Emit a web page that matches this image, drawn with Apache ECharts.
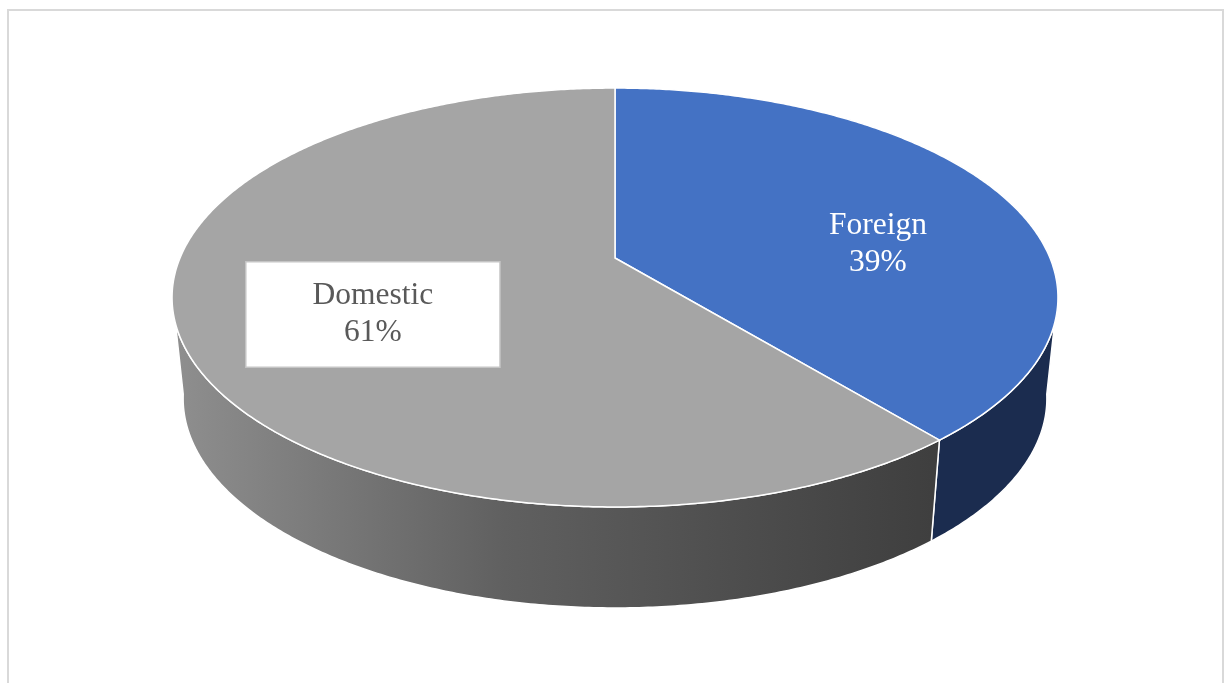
<!DOCTYPE html>
<html>
<head>
<meta charset="utf-8">
<script src="https://cdn.jsdelivr.net/npm/echarts@6/dist/echarts.min.js"></script>
<style>
html,body{margin:0;padding:0;background:#ffffff;}
#main{width:1229px;height:683px;}
</style>
</head>
<body>
<div id="main"></div>
<script>
// ---- data ----
const categories = ['Foreign', 'Domestic'];
const values = [39, 61];

// ---- styles ----
const topColors = ['#4472C4', '#A5A5A5'];
const sideColors = [
  '#1B2C4F',
  {type: 'linear', x: 172, y: 0, x2: 945, y2: 0, global: true,
   colorStops: [{offset: 0, color: '#8F8F8F'}, {offset: 0.43, color: '#606060'},
                {offset: 0.69, color: '#505050'}, {offset: 1, color: '#3E3E3E'}]}
];
const labelStyles = [
  {fill: '#FFFFFF', f: 0.67, dy: 30},
  {fill: '#595959', f: 0.57, dy: 16, box: true}
];
// projected geometry of the pie (perspective ellipse)
const G = {cx: 615, cy: 258, A: 435, B: 202, k: 0.1886, depth: 101, shrink: 0.975};

function proj(theta, f) {
  const u = f * Math.sin(theta), v = f * Math.cos(theta);
  const w = 1 + G.k * v;
  return [G.cx + G.A * u / w, G.cy - G.B * v / w];
}
function bottomOf(p) {
  return [G.cx + (p[0] - G.cx) * G.shrink, p[1] + G.depth];
}

function renderItem(params, api) {
  const i = params.dataIndex;
  const total = values.reduce((a, b) => a + b, 0);
  let start = 0;
  for (let j = 0; j < i; j++) start += values[j];
  const val = api.value(0);
  const a0 = start / total * 2 * Math.PI;
  const a1 = (start + val) / total * 2 * Math.PI;
  const children = [];

  // side wall (front visible part)
  const vis0 = Math.acos(-G.k), vis1 = 2 * Math.PI - vis0;
  const s0 = Math.max(a0, vis0 - 0.02), s1 = Math.min(a1, vis1 + 0.02);
  if (s1 > s0) {
    const n = Math.max(2, Math.ceil((s1 - s0) / (Math.PI / 360)));
    const topPts = [], botPts = [];
    for (let s = 0; s <= n; s++) {
      const p = proj(s0 + (s1 - s0) * s / n, 1);
      topPts.push(p);
      botPts.push(bottomOf(p));
    }
    children.push({
      type: 'polygon', z2: 1,
      shape: {points: topPts.concat(botPts.reverse())},
      style: {fill: sideColors[i], stroke: '#FFFFFF', lineWidth: 1.5}
    });
  }

  // top face
  const pts = [[G.cx, G.cy]];
  const n = Math.max(2, Math.ceil((a1 - a0) / (Math.PI / 360)));
  for (let s = 0; s <= n; s++) pts.push(proj(a0 + (a1 - a0) * s / n, 1));
  children.push({
    type: 'polygon', z2: 2,
    shape: {points: pts},
    style: {fill: topColors[i], stroke: '#FFFFFF', lineWidth: 1.5}
  });

  // label
  const ls = labelStyles[i];
  const mid = (a0 + a1) / 2;
  const c = proj(mid, ls.f);
  const pct = Math.round(val / total * 100) + '%';
  const st = {
    text: categories[i] + '\n' + pct,
    x: c[0], y: c[1] + ls.dy,
    align: 'center', verticalAlign: 'middle',
    font: '31.5px "Liberation Serif", "Times New Roman", serif',
    lineHeight: 37,
    fill: ls.fill
  };
  if (ls.box) {
    st.backgroundColor = '#FFFFFF';
    st.borderColor = '#C4C4C4';
    st.borderWidth = 1.5;
    st.padding = [15, 66, 15, 66];
  }
  children.push({type: 'text', z2: 5, style: st});

  return {type: 'group', children: children};
}

const chart = echarts.init(document.getElementById('main'), null, {renderer: 'canvas'});
chart.setOption({
  animation: false,
  backgroundColor: '#FFFFFF',
  graphic: [{
    type: 'rect', z: -1,
    shape: {x: 8, y: 10, width: 1215, height: 700},
    style: {fill: 'none', stroke: '#D9D9D9', lineWidth: 2}
  }],
  series: [{
    type: 'custom',
    coordinateSystem: 'none',
    renderItem: renderItem,
    data: values.map((v, i) => ({name: categories[i], value: [v]}))
  }]
});
</script>
</body>
</html>
